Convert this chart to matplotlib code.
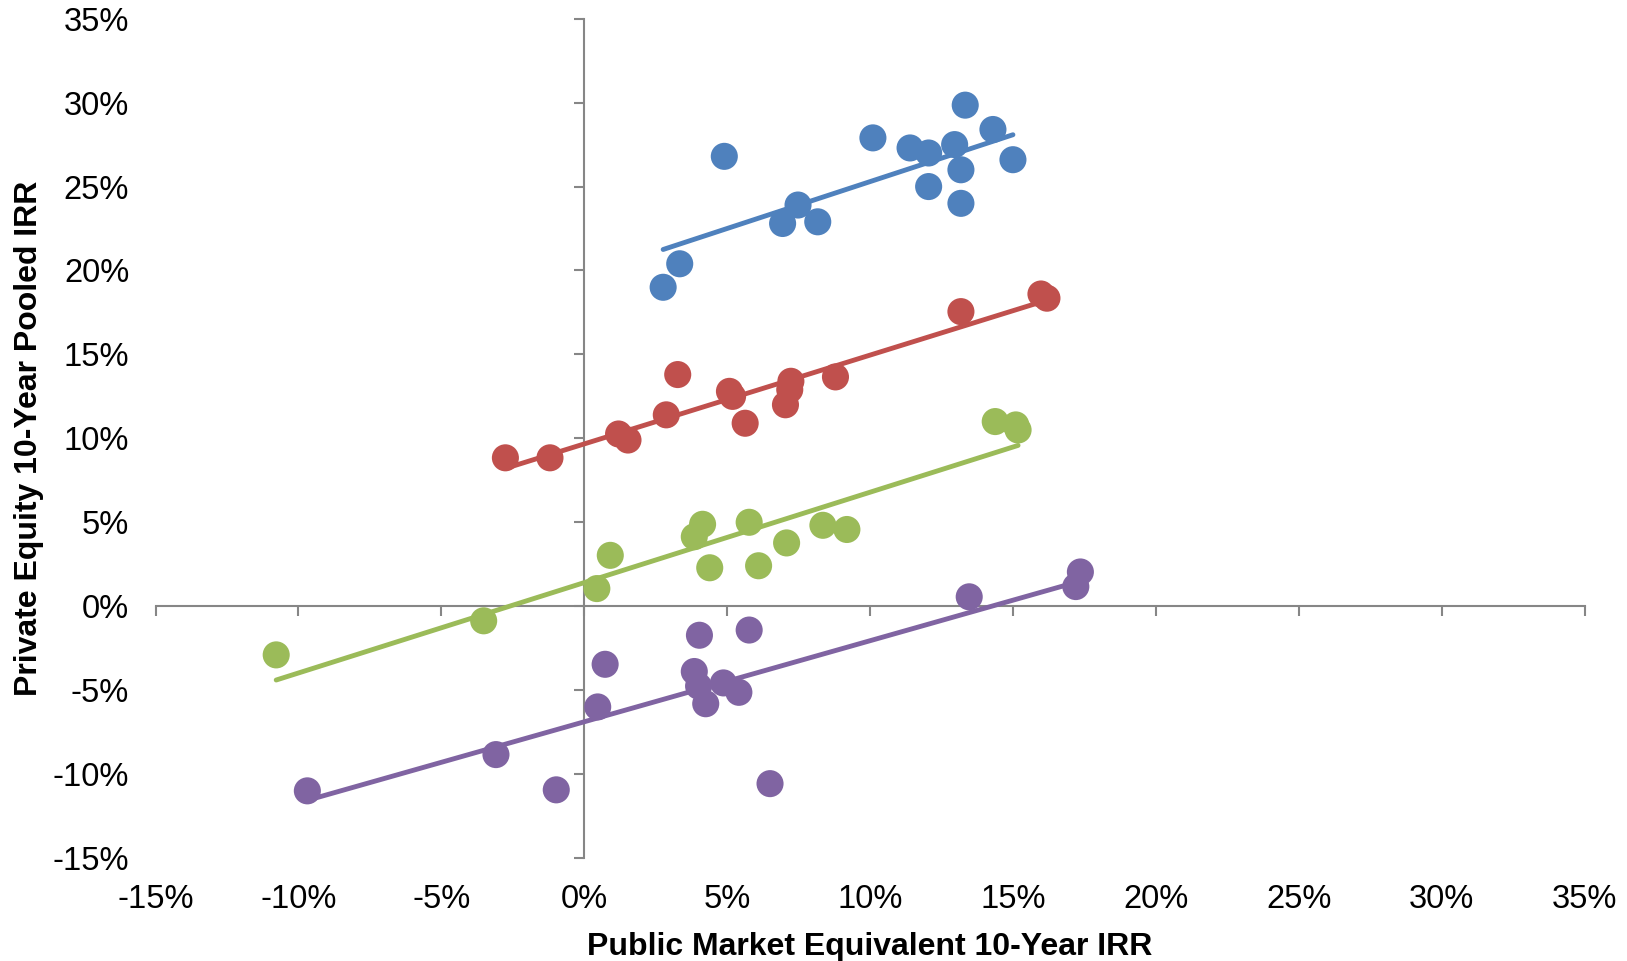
import numpy as np
import matplotlib.pyplot as plt
from matplotlib.ticker import FuncFormatter, MultipleLocator

plt.rcParams['font.family'] = ['Liberation Sans', 'DejaVu Sans']

# PME 10 年 IRR (x) 与 PE 10 年 pooled IRR (y)，单位 %
blue_x = [2.76, 3.34, 4.9, 6.94, 7.48, 8.17, 10.1, 11.4, 12.05, 12.05, 12.96, 13.18, 13.18, 13.33, 14.3, 15.0]
blue_y = [19.0, 20.4, 26.8, 22.8, 23.9, 22.9, 27.9, 27.3, 27.0, 25.0, 27.5, 26.0, 24.0, 29.85, 28.4, 26.6]

red_x = [-2.76, -1.2, 1.2, 1.53, 2.87, 3.27, 5.08, 5.19, 5.63, 7.04, 7.19, 7.23, 8.79, 13.18, 15.98, 16.19]
red_y = [8.84, 8.84, 10.26, 9.9, 11.4, 13.8, 12.8, 12.5, 10.9, 12.0, 12.9, 13.4, 13.66, 17.55, 18.6, 18.35]

green_x = [-10.78, -3.52, 0.44, 0.91, 3.85, 4.14, 4.39, 5.77, 6.1, 7.08, 8.35, 9.19, 14.38, 15.1, 15.18]
green_y = [-2.9, -0.87, 1.05, 3.03, 4.14, 4.88, 2.29, 5.0, 2.41, 3.77, 4.82, 4.57, 11.0, 10.8, 10.5]

purple_x = [-9.69, -3.09, -0.98, 0.47, 0.73, 4.03, 3.85, 4.0, 4.25, 4.87, 5.41, 5.77, 6.5, 13.47, 17.2, 17.36]
purple_y = [-11.0, -8.84, -10.94, -6.0, -3.46, -1.73, -3.89, -4.76, -5.81, -4.57, -5.13, -1.42, -10.57, 0.56, 1.17, 2.04]

series = [
    (blue_x, blue_y, '#4F81BD'),
    (red_x, red_y, '#C0504D'),
    (green_x, green_y, '#9BBB59'),
    (purple_x, purple_y, '#8064A2'),
]

W, H = 1627, 961
fig = plt.figure(figsize=(W / 100, H / 100), dpi=100)
rect = [155.6 / W, 1 - 858 / H, (1584.5 - 155.6) / W, (858 - 18.7) / H]

# 轴线放在 0 处（另一个透明坐标轴），刻度文字放在边上
ax = fig.add_axes(rect)
axz = fig.add_axes(rect, sharex=ax, sharey=ax)
axz.set_facecolor('none')
axz.set_zorder(0)
ax.set_zorder(1)
ax.patch.set_visible(False)

for x, y, c in series:
    x = np.array(x)
    y = np.array(y)
    k, b = np.polyfit(x, y, 1)
    xs = np.array([x.min(), x.max()])
    ax.plot(xs, k * xs + b, color=c, lw=3.5, solid_capstyle='round', zorder=2)
    ax.scatter(x, y, s=380, color=c, edgecolors='none', zorder=3)

ax.set_xlim(-15, 35)
ax.set_ylim(-15, 35)
pct = FuncFormatter(lambda v, p: f'{v:.0f}%')
for a in (ax, axz):
    a.xaxis.set_major_locator(MultipleLocator(5))
    a.yaxis.set_major_locator(MultipleLocator(5))
ax.xaxis.set_major_formatter(pct)
ax.yaxis.set_major_formatter(pct)

for s in ax.spines.values():
    s.set_visible(False)
ax.tick_params(length=0, labelsize=23.5, colors='black')
ax.tick_params(axis='x', pad=19)
ax.tick_params(axis='y', pad=19)

axz.spines['top'].set_visible(False)
axz.spines['right'].set_visible(False)
axz.spines['left'].set_position(('data', 0))
axz.spines['bottom'].set_position(('data', 0))
for s in ('left', 'bottom'):
    axz.spines[s].set_color('#868686')
    axz.spines[s].set_linewidth(1.5)
axz.tick_params(labelleft=False, labelbottom=False, direction='out',
                length=7, width=1.5, color='#868686')

ax.set_xlabel('Public Market Equivalent 10-Year IRR', fontsize=23, fontweight='bold', labelpad=12)
ax.set_ylabel('Private Equity 10-Year Pooled IRR', fontsize=23, fontweight='bold', labelpad=6)

plt.savefig('out.png', dpi=100)
